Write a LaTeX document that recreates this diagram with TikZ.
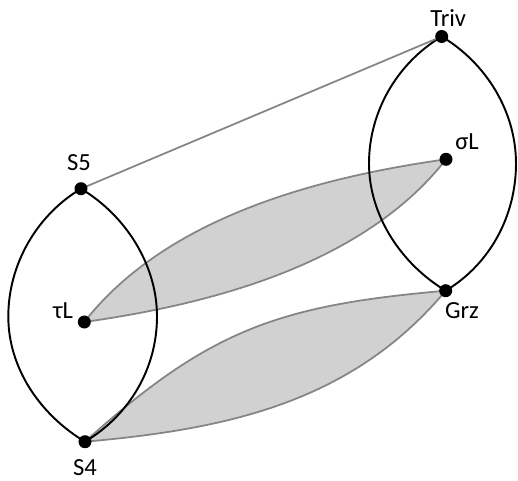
\documentclass[tikz,border=0pt]{standalone}
\usepackage{fontspec}
\setmainfont{Carlito}
\usetikzlibrary{backgrounds}

\begin{document}
\begin{tikzpicture}[
    dot/.style={circle, fill=black, inner sep=0pt, minimum size=0.26cm},
    lbl/.style={anchor=base, inner sep=1pt, font=\fontsize{14}{16}\selectfont},
    loop/.style={draw=black, line width=1.1pt},
    lens/.style={draw=black!48, fill=black!18, line width=1pt},
    link/.style={draw=black!48, line width=1pt}
]
\useasboundingbox (0,0) rectangle (10.36,9.6);

% the six points
\node[dot] (triv) at (8.834,8.87) {};
\node[dot] (s5) at (1.62,5.826) {};
\node[dot] (sigl) at (8.92,6.414) {};
\node[dot] (taul) at (1.686,3.16) {};
\node[dot] (grz) at (8.914,3.786) {};
\node[dot] (s4) at (1.70,0.766) {};

% widest points of the two loops
\coordinate (leftw) at (0.166,3.27);
\coordinate (lefte) at (3.14,3.27);
\coordinate (rightw) at (7.38,6.33);
\coordinate (righte) at (10.32,6.33);

\node[lbl] (trivlbl) at ([shift={(0.13,0.2)}]triv) {Triv};
\node[lbl] (s5lbl) at ([shift={(-0.04,0.374)}]s5) {S5};
\node[lbl] (sigllbl) at ([shift={(0.42,0.2)}]sigl) {σL};
\node[lbl] (taullbl) at ([shift={(-0.426,0.08)}]taul) {τL};
\node[lbl] (grzlbl) at ([shift={(0.326,-0.546)}]grz) {Grz};
\node[lbl] (s4lbl) at ([shift={(0,-0.67)}]s4) {S4};

\begin{scope}[on background layer]
% shaded lenses
\path[lens] (taul.center) to[out=52,in=188,looseness=0.85] (sigl.center)
    to[out=232,in=8,looseness=0.85] (taul.center) -- cycle;
\path[lens] (s4.center) to[out=42,in=185,looseness=1.1] (grz.center)
    to[out=230,in=5,looseness=0.95] (s4.center) -- cycle;
% the two loops
\draw[loop] (s5.center) .. controls +(-0.9,-0.54) and +(0,1.03) .. (leftw)
    .. controls +(0,-1.03) and +(-0.9,0.54) .. (s4.center)
    .. controls +(0.9,0.54) and +(0,-1.03) .. (lefte)
    .. controls +(0,1.03) and +(0.9,-0.54) .. (s5.center);
\draw[loop] (triv.center) .. controls +(-0.9,-0.54) and +(0,1.03) .. (rightw)
    .. controls +(0,-1.03) and +(-0.9,0.54) .. (grz.center)
    .. controls +(0.9,0.54) and +(0,-1.03) .. (righte)
    .. controls +(0,1.03) and +(0.9,-0.54) .. (triv.center);
\draw[link] (s5.center) -- (triv.center);
\end{scope}
\end{tikzpicture}
\end{document}
